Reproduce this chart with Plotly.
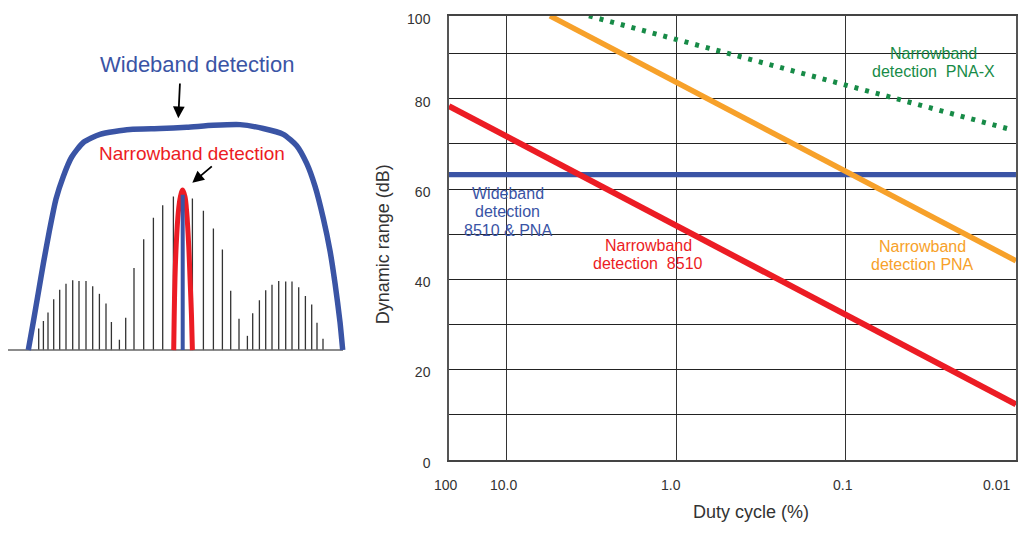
import plotly.graph_objects as go

W, H = 1019, 537
FONT = "Liberation Sans, Arial, sans-serif"

# --- left sketch: spectrum of a pulsed signal (offset from carrier, height above baseline)
line_offsets = [-144.0, -139.3, -134.7, -129.0, -123.0, -116.7, -110.0, -103.7, -96.7, -90.0,
                -83.3, -76.7, -71.3, -63.3, -57.0, -48.7, -39.0, -29.3, -20.0, -9.3,
                0.0, 9.7, 20.7, 30.7, 39.7, 48.0, 56.3, 64.7, 70.0, 76.7,
                83.0, 89.3, 96.0, 103.0, 109.3, 116.0, 122.7, 129.0, 134.3, 140.3]
line_heights = [22.3, 30.0, 38.7, 52.3, 62.3, 68.3, 72.0, 71.3, 71.3, 65.7,
                58.0, 48.0, 29.0, 10.7, 33.3, 84.7, 114.3, 136.3, 149.3, 158.3,
                165.0, 156.3, 143.7, 125.3, 103.7, 61.3, 32.3, 14.7, 38.0, 51.3,
                61.7, 67.3, 71.3, 70.7, 70.7, 64.7, 55.7, 47.0, 28.3, 11.7]

wb_offsets = [-154.4, -149.4, -144.4, -139.4, -133.4, -126.7, -119.4, -111.0, -99.4, -82.7,
              -52.7, -22.7, 4.0, 30.6, 57.3, 80.6, 100.6, 114.0, 124.0, 132.3,
              140.6, 147.3, 152.3, 157.3, 160.0]
wb_heights = [0, 29, 59, 89, 122.4, 155.7, 179, 199, 214, 222.4,
              227.4, 228.4, 229.7, 231.7, 232.4, 228.4, 222.4, 210.7, 192.4, 169,
              135.7, 102.4, 69, 29, 0]

nb_offsets = [-9.0, -8.5, -7.7, -6.5, -4.4, -2.3, 0, 2.3, 4.0, 6.0, 7.3, 8.8, 9.7]
nb_heights = [0, 35, 75, 108, 142, 158, 165, 158, 142, 108, 75, 35, 0]

carrier_height = 160
baseline_span = [-174.7, 160.3]

# --- right chart: dynamic range vs duty cycle
red_duty, red_db = [21.88, 0.00989], [78.4, 12.3]
orange_duty, orange_db = [5.55, 0.00989], [98.4, 44.1]
green_duty, green_db = [3.27, 0.0106], [98.4, 73.2]
blue_duty, blue_db = [21.88, 0.00989], [63.2, 63.2]

y_ticks = [0, 10, 20, 30, 40, 50, 60, 70, 80, 90, 98.4]
y_text = ["0", "", "20", "", "40", "", "60", "", "80", "", "100"]
x_grid = [10, 1, 0.1]
x_labels = ["100", "10.0", "1.0", "0.1", "0.01"]
x_label_px = [445.5, 503.5, 670.5, 842.5, 996]

BLUE, RED, ORANGE, GREEN = "#3a54a5", "#ec1c24", "#f7a12a", "#178b47"


def px(x):
    return x / W


def py(y):
    return 1 - y / H


fig = go.Figure()

# spectral lines
sx, sy = [], []
for o, h in zip(line_offsets, line_heights):
    sx += [o, o, None]
    sy += [0, h, None]
fig.add_trace(go.Scatter(x=sx, y=sy, mode="lines", line=dict(color="#333", width=1.3),
                         xaxis="x2", yaxis="y2", hoverinfo="skip"))
fig.add_trace(go.Scatter(x=baseline_span, y=[0, 0], mode="lines", line=dict(color="#666", width=1.5),
                         xaxis="x2", yaxis="y2", hoverinfo="skip"))
fig.add_trace(go.Scatter(x=nb_offsets, y=nb_heights, mode="lines", line=dict(color=RED, width=5, shape="spline"),
                         xaxis="x2", yaxis="y2"))
fig.add_trace(go.Scatter(x=[0, 0], y=[0, carrier_height], mode="lines", line=dict(color=BLUE, width=4),
                         xaxis="x2", yaxis="y2"))
fig.add_trace(go.Scatter(x=wb_offsets, y=wb_heights, mode="lines",
                         line=dict(color=BLUE, width=5.5, shape="spline", smoothing=0.6),
                         xaxis="x2", yaxis="y2"))

# chart lines
fig.add_trace(go.Scatter(x=blue_duty, y=blue_db, mode="lines", line=dict(color=BLUE, width=5.3)))
fig.add_trace(go.Scatter(x=red_duty, y=red_db, mode="lines", line=dict(color=RED, width=6)))
fig.add_trace(go.Scatter(x=orange_duty, y=orange_db, mode="lines", line=dict(color=ORANGE, width=5.5)))
fig.add_trace(go.Scatter(x=green_duty, y=green_db, mode="lines",
                         line=dict(color=GREEN, width=5, dash="4px,7px")))

annotations = []
shapes = []


def label(lines, x, y, color, size=16, spacing=18.5, **kw):
    n = len(lines)
    for i, t in enumerate(lines):
        annotations.append(dict(text=t, x=x, y=y, yshift=((n - 1) / 2 - i) * spacing, showarrow=False,
                                xanchor="center", yanchor="middle",
                                font=dict(color=color, size=size, family=FONT), **kw))


def white_box(x0, y0, x1, y1):
    # blanks the grid behind a label, under the data lines
    shapes.append(dict(type="rect", xref="paper", yref="paper", x0=px(x0), x1=px(x1), y0=py(y1), y1=py(y0),
                       fillcolor="white", line=dict(width=0), layer="between"))


white_box(457, 182, 557, 248)
white_box(597, 239, 701, 281)
white_box(862, 38, 994, 80)

label(["Wideband", "detection", "8510 &amp; PNA"], 0.992, 55.0, BLUE)
label(["Narrowband", "detection  8510"], 0.166, 45.5, RED)
label(["Narrowband", "detection PNA"], -1.451, 45.3, ORANGE)
label(["Narrowband", "detection  PNA-X"], -1.516, 88.1, GREEN)

for t, p in zip(x_labels, x_label_px):
    label([t], px(p), py(495), "#333", size=14, xref="paper", yref="paper")

label(["Duty cycle (%)"], px(750.7), py(523), "#333", size=18, xref="paper", yref="paper")
label(["Dynamic range (dB)"], px(382.7), py(247), "#333", size=18, xref="paper", yref="paper", textangle=-90)

# sketch labels and arrows
label(["Wideband detection"], 14, 294, BLUE, size=22, xref="x2", yref="y2")
label(["Narrowband detection"], 9, 203, RED, size=19, xref="x2", yref="y2")
for tip, tail in [((-4.4, 239), (-2.7, 276.4)), ((9.6, 172.4), (30.6, 190.7))]:
    annotations.append(dict(text="", x=tip[0], y=tip[1], ax=tail[0], ay=tail[1], xref="x2", yref="y2",
                            axref="x2", ayref="y2", showarrow=True, arrowhead=2, arrowsize=1.3,
                            arrowwidth=1.8, arrowcolor="black", standoff=0))

fig.update_layout(
    width=W, height=H, margin=dict(l=0, r=0, t=0, b=0),
    paper_bgcolor="white", plot_bgcolor="white", showlegend=False,
    font=dict(family=FONT, color="#333"),
    xaxis=dict(type="log", range=[1.340, -2.005], domain=[px(449), px(1016)], anchor="y",
               tickvals=x_grid, showticklabels=False, showgrid=True, gridcolor="#333", gridwidth=1.3,
               showline=True, linecolor="#444", linewidth=1.5, mirror=True, zeroline=False, ticks=""),
    yaxis=dict(range=[0, 98.45], domain=[py(468.7), py(11)], anchor="x",
               tickvals=y_ticks, ticktext=y_text, showgrid=True, gridcolor="#222", gridwidth=1.2,
               showline=True, linecolor="#555", linewidth=1.5, mirror=True, zeroline=False, ticks="",
               ticklabelstandoff=14, ticklabelshift=3, ticklabeloverflow="allow",
               tickfont=dict(size=14, color="#333")),
    xaxis2=dict(domain=[0, 0.36], range=[-182.7, 184.14], visible=False, anchor="y2"),
    yaxis2=dict(domain=[0, 1], range=[-181.3, 355.7], visible=False, anchor="x2"),
    annotations=annotations,
    shapes=shapes,
)

# pin the 1019x537 figure to the window's top-left corner so the page is exactly the window
pin = ("var d = document.getElementById('{plot_id}');"
       "d.style.position = 'fixed'; d.style.left = '0px'; d.style.top = '0px';"
       "document.body.style.margin = '0'; document.body.style.overflow = 'hidden';"
       "document.documentElement.style.overflow = 'hidden';")
fig.write_html("out.html", config={"displayModeBar": False}, post_script=pin)
